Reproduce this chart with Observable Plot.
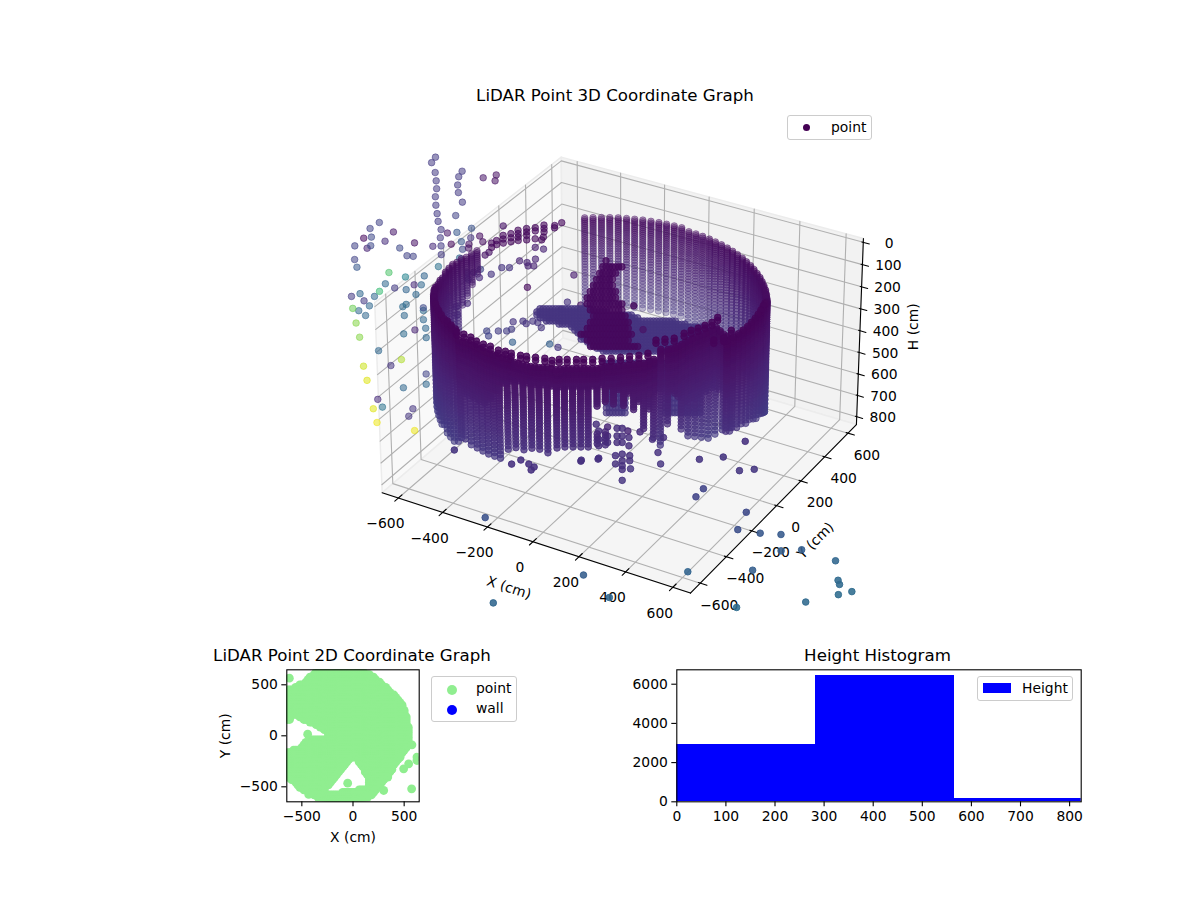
<!DOCTYPE html>
<html><head><meta charset="utf-8">
<script src="https://cdn.jsdelivr.net/npm/d3@7"></script>
<script src="https://cdn.jsdelivr.net/npm/@observablehq/plot@0.6"></script>
<style>
html,body{margin:0;padding:0;background:#fff}
#page{position:relative;width:1200px;height:900px;overflow:hidden;font-family:"DejaVu Sans",sans-serif;color:#000}
#page>div{position:absolute}
.t{font-size:16.67px;line-height:20px;transform:translateX(-50%);white-space:nowrap}
.lg{background:rgba(255,255,255,.8);border:1px solid #ccc;border-radius:3px;box-sizing:border-box}
.lt{position:absolute;font-size:13.89px;line-height:16px;white-space:nowrap}
.lm{position:absolute;border-radius:50%}
svg{display:block;overflow:visible}
</style></head><body><div id="page"></div>
<script>
// ---- 3D axes (cm)
const xTicks=[-600,-400,-200,0,200,400,600];
const yTicks=[-600,-400,-200,0,200,400,600];
const hTicks=[0,100,200,300,400,500,600,700,800];
const boxXY=[-674,674];
const boxH=[-17,837];
// ---- scan rows of the LiDAR (H, cm)
const scanRows=[30,38,46,54,62,70,78,86,94,102,110,118,127,136,145,154,163,172,182,192,202,212,222,233,244,255,266,278,290,302,315,328,341,355,369,383,398,413,428,444,460,476,493,510,527,545,563,581,600,620,640,660,680,700,730];
// ---- wall columns: across / deep are horizontal cm in the view-aligned frame
const wallU=[-151,-118,-85,-52,-19,14,46,78,110,141,171,201,230,258,285,311,337,360,383,405,425,443,461,476,491,503,514,524,531,537,542,544,545,544,542,537,531,524,514,503,491,476,461,443,425,405,383,
 -568,-588,-607,-625,-641,-656,-669,-681,-691,-699,-705,-710,-713,-715,
 -715,-713,-709,-703,-696,-688,-677,-665,-651,-636,-619,
 -589,-567,-544,-522,-500,-477,-455,-425,-396,-366,-336,-307,-277,-243,-214,-184,-155,-128,-95,-95,-65,-65,-35,2,39,76,113,139,165,191,217,243,269,295,321,347,373,399,
 -604,-578,-555,-533,-511,-488,-466,-440,-410,-381,-351,-321,-292,-260,-229,-199,-169,-141,-112,-80,-50,-17,20,57,95,178,204,230,256,282,308,334,360,386];
const wallV=[627,629,630,629,627,622,616,609,599,588,575,561,546,528,510,490,468,445,422,396,370,343,315,286,256,226,195,163,131,99,66,33,0,-33,-66,-99,-131,-163,-195,-226,-256,-286,-315,-343,-370,-396,-422,
 405,379,352,324,296,266,236,205,174,142,109,77,44,11,
 -22,-55,-88,-120,-152,-184,-215,-246,-276,-305,-334,
 -399,-413,-435,-457,-478,-493,-507,-522,-536,-551,-565,-572,-572,-587,-580,-580,-580,-580,-580,-580,-565,-565,-565,-558,-551,-543,-514,-442,-442,-435,-406,-377,-355,-334,-312,-283,-334,-370,
 -390,-405,-425,-445,-467,-485,-500,-515,-530,-544,-558,-568,-572,-580,-585,-580,-580,-580,-580,-572,-565,-561,-555,-547,-528,-438,-420,-391,-366,-344,-323,-297,-308,-352];
const wallTop=[102,102,102,102,102,102,102,102,102,102,102,102,102,105,105,105,105,108,108,108,108,108,108,109,109,109,109,109,109,109,109,109,109,100,80,65,52,43,41,41,41,41,41,45,45,45,45,
 125,122,120,118,112,104,106,110,112,108,103,98,85,72,
 72,68,64,60,56,52,50,47,45,42,40,
 60,60,60,60,60,60,60,60,70,70,70,70,70,70,70,70,70,70,70,343,70,343,70,70,70,70,70,70,70,70,70,70,70,70,70,70,70,70,
 60,60,60,60,60,60,60,60,60,70,70,70,70,70,70,70,70,70,70,70,70,70,70,70,70,70,70,70,70,70,70,70,70,70];
const wallBottom=[515,515,515,515,515,515,515,515,515,515,515,515,515,560,560,560,560,560,560,560,560,560,560,600,600,600,600,600,600,630,630,630,630,610,590,570,550,533,520,510,500,490,480,470,465,458,451,
 242,272,302,331,429,620,610,600,600,590,585,580,575,575,
 578,572,570,568,565,563,562,565,564,563,558,
 502,511,511,511,515,520,520,475,453,449,440,436,445,427,427,422,422,418,233,409,228,418,242,246,273,356,427,502,405,277,458,493,515,537,559,550,506,480,
 500,300,300,300,300,260,220,180,160,150,145,145,145,145,145,145,145,145,145,145,160,180,200,240,280,250,300,330,330,330,340,340,330,330];
// ---- the distinct top ring of the front wall
const ringRows=[30,44];
const ringU=[-611,-585,-559,-537,-511,-485,-455,-429,-407,-373,-351,-318,-284,-258,-232,-203,-169,-143,-110,-76,-43,-9,24,58,91,121,154,188,225,251,277,303,329,351,399,370,333];
const ringV=[-384,-399,-420,-449,-471,-486,-514,-522,-536,-551,-558,-565,-572,-587,-580,-580,-580,-580,-580,-572,-572,-565,-558,-551,-536,-442,-435,-428,-392,-370,-355,-334,-312,-276,-370,-428,-442];
// ---- floor blob and the tall object near the middle (rows of H with extent)
const blobAcross=[-340,-328,-316,-304,-292,-280,-268,-256,-244,-232,-220,-208,-196,-184,-172,-160,-148,-136,-124,-112,-100,-88,-76,-64,-52,-40,-28,-16,-4,8,20,32,44,56,68,80,92,104,116,128,140,152,164,176,188,200,212,224,236,248,260,272,284,296,308,320,332];
const blobH=[178,192,206,219,233,247,260,274,287,301,315,328,342,356,369,387,410,433,455,478,501,524,546,569,591,614,524,546,569,591,614];
const blobFrom=[-327,-330,-335,-320,-297,-250,-201,-190,-182,-170,-163,-140,-124,-100,-86,-80,-75,-75,-75,-75,-75,-75,-75,-75,-70,-67,155,160,163,163,163];
const blobTo=[-124,-60,40,67,200,240,330,330,330,300,280,280,280,258,258,258,270,280,290,297,297,17,17,17,12,10,297,297,297,297,297];
const spikeAcross=[-160,-148,-136,-124,-112,-100,-88,-76,-64,-52,-40,-28,-16,-4,8,20,32,44,56,68];
const spikeH=[-58,-31,-3,24,51,78,106,133,160,187,215,242,269,296,324];
const spikeFrom=[-75,-86,-98,-109,-117,-132,-140,-136,-124,-117,-124,-144,-163,-144,-124];
const spikeTo=[-55,-2,-17,-29,-33,-25,-17,-2,6,13,21,29,36,29,67];
// ---- far points behind the box (deep = 800)
const farU=[-742,-758,-745,-742,-741,-747,-746,-742,-739,-728,-732,-730,-730,-638,-652,-657,-655,-640,-555,-503,-508,-668,-974,-1012,-919,-1039,-1008,-954,-836,-1076,-1027,-1012,-896,-763,-703,-689,-665,-606,-610,-648,-618,-574,-562,-644,-620,-868,-843,-1079,-1071,-657,-743,-801,-943,-877,-984,-959,-922,-843,-814,-876,-837,-1005,-1063,-1098,-1048,-1027,-1095,-1071,-1044,-887,-878,-892,-809,-809,-810,-802,-846,-892,-1084,-1072,-801,-997,-905,-1061,-949,-1049,-806,-901,-1008,-990,-1028,-865,-1015,-883,-861,-807];
const farH=[-81,-56,-11,27,63,100,139,178,214,252,290,328,369,-17,8,46,81,125,13,0,27,187,219,247,263,292,287,306,314,328,339,327,338,330,268,320,265,246,290,308,320,282,309,344,338,374,377,392,428,385,425,469,453,474,542,506,526,511,511,534,557,566,553,566,587,611,623,634,657,657,604,615,620,633,677,718,726,745,693,761,763,826,869,901,898,970,939,1006,1063,1101,1109,1109,1177,1146,1217,989];
const farT=[.17,.17,.17,.17,.17,.17,.17,.17,.17,.17,.17,.17,.17,.17,.17,.17,.17,.17,.06,.04,.04,.2,.2,.2,.07,.02,.22,.13,.05,.2,.1,.22,.22,.12,.06,.02,.27,.25,.15,.27,.05,.03,.03,.22,.05,.2,.2,.2,.27,.32,.37,.32,.72,.45,.68,.33,.17,.12,.33,.32,.33,.33,.33,.17,.17,.33,.78,.33,.33,.33,.35,.35,.22,.35,.33,.33,.1,.35,.82,.82,.33,.33,.88,.92,.15,.95,.2,.33,.12,.38,.95,.15,.97,.15,.97,.33];
// ---- sparse arc at the back-left of the wall and stray points (deep = 800)
const arcU=[-245,-273,-274,-316,-316,-316,-351,-351,-386,-386,-386,-420,-420,-420,-449,-449,-449,-480,-480,-480,-479,-507,-507,-527,-527,-352,-326,-319,-352,-319,-386,-420,-416,-386,-352,-382,-359,-457,-488,-531,-579,-601,-574,-554,-538,-198,-386,-628,-624,-630,-675,-672,-554,-547,-507,-473,-453,-450,-446,-406,-393,-366,-346,-332,-299,-252,-225,-171,-299,-265];
const arcH=[220,233,244,231,247,263,243,258,247,263,279,255,271,287,271,290,309,279,296,315,235,303,322,315,335,295,300,287,335,343,300,303,398,406,390,422,422,430,430,461,477,453,438,371,358,465,523,453,485,599,614,655,731,755,731,731,723,785,687,684,696,684,691,715,656,628,593,607,794,810];
const arcT=[.02,.02,.02,.02,.02,.02,.02,.02,.02,.02,.02,.02,.02,.02,.02,.02,.02,.02,.02,.02,.06,.02,.02,.02,.02,.02,.02,.02,.08,.1,.02,.02,.1,.1,.1,.1,.1,.15,.15,.15,.12,.2,.2,.05,.05,.08,.02,.2,.2,.12,.12,.15,.2,.2,.18,.18,.18,.3,.15,.15,.15,.15,.15,.15,.14,.14,.14,.05,.3,.15];
// ---- stray points in front of the wall (deep = -500)
const frontU=[-155,-90,-99,-57,-90,-90,-90,-57,-57,-22,-22,-22,-3,-3,-3,18,22,22,-28,-3,25,25,-28,-3,-3,-3,28,-3,140,130,63,109,150,39,73];
const frontH=[523,514,363,375,393,430,459,415,444,381,415,444,381,415,444,393,422,459,503,496,503,526,540,526,548,565,562,614,540,489,397,430,422,-152,-50];
const frontT=[.14,.14,.13,.1,.13,.13,.13,.13,.13,.13,.13,.13,.13,.13,.13,.1,.13,.13,.14,.14,.14,.14,.14,.14,.14,.14,.15,.15,.15,.14,.12,.13,.13,.03,.06];
// ---- points low in front of the box (deep = -700)
const nearU=[279,366,426,480,445,295,268,454,424,507,584,586,662,789,482,241,801,807,804,854,683,425,-51,-508,-147,-485,-615,-407,-373,-344,-336,-325,-154,-91];
const nearH=[390,380,440,434,311,520,556,625,703,719,725,799,794,844,887,894,933,952,999,985,1033,1058,1012,649,909,1037,349,411,393,411,437,424,398,389];
const nearT=[.15,.15,.16,.16,.14,.2,.2,.22,.24,.27,.28,.3,.3,.33,.3,.32,.34,.34,.35,.35,.34,.35,.33,.25,.3,.33,.15,.14,.14,.14,.14,.14,.14,.14];
// ---- 2D plan (cm): rows with extents, and lone points
const planCols=[-640,-620,-600,-580,-560,-540,-520,-500,-480,-460,-440,-420,-400,-380,-360,-340,-320,-300,-280,-260,-240,-220,-200,-180,-160,-140,-120,-100,-80,-60,-40,-20,0,20,40,60,80,100,120,140,160,180,200,220,240,260,280,300,320,340,360,380,400,420,440,460,480,500,520,540,560,580,600,620,640];
const planY=[650,625,600,575,550,525,500,475,450,425,400,375,350,325,300,275,250,225,210,185,185,160,160,135,110,85,60,35,10,-15,-40,-65,-90,-115,-140,-165,-190,-210,-230,-230,-255,-255,-280,-280,-305,-305,-330,-330,-355,-355,-380,-380,-405,-405,-430,-430,-455,-455,-480,-480,-505,-505,-530,-530,-555,-555,-580,-605,-630,-647];
const planFrom=[-330,-370,-395,-420,-445,-465,-520,-560,-640,-640,-640,-640,-640,-640,-640,-640,-640,-640,-640,-640,-520,-640,-490,-430,-368,-325,-285,-245,-245,-245,-415,-470,-490,-510,-580,-640,-640,-640,-640,50,-640,55,-640,70,-640,85,-640,105,-640,120,-640,135,-640,145,-600,150,-575,155,-555,155,-530,150,-490,50,-430,-119,-390,-340,-280,-230];
const planTo=[30,110,160,205,235,265,295,320,350,378,403,420,445,460,480,492,505,512,516,-610,520,-620,525,530,535,540,543,545,545,545,543,540,537,530,510,490,475,460,-40,445,-45,425,-65,410,-90,395,-110,380,-130,365,-150,350,-170,340,-185,310,-205,290,-230,265,-265,245,-265,225,-265,210,190,140,80,30];
const loneX=[-622,-443,-52,573,300,576,625,625,495,544,-433];
const loneY=[565,16,-464,-520,-536,-88,-209,-242,-324,-275,-575];
// ---- histogram
const binStart=[0,282.4,564.8];
const binEnd=[282.4,564.8,847];
const binCount=[2923,6444,168];

const font='"DejaVu Sans",sans-serif';
const fs=13.89;
const page=document.getElementById("page");

// view-aligned frame + matplotlib-style perspective (elev 30, azim -60, dist 10)
function project(U,V,H){
  const u=U/1348,v=V/1348,z=.6*(410-H)/854;
  const d=-.866*v+.5*z,f=10/(10-d);
  return {a:u*f,b:(.5*v+.866*z)*f,d};
}
const world=(X,Y,H)=>project(.866*X+.5*Y,-.5*X+.866*Y,H);
const [lo,hi]=boxXY,[hTop,hBot]=boxH;
const path=(pts)=>pts.map(p=>world(...p));

const walls=[
 {p:path([[lo,lo,hTop],[lo,hi,hTop],[lo,hi,hBot],[lo,lo,hBot]]),fill:"#f9f9f9"},
 {p:path([[lo,hi,hTop],[hi,hi,hTop],[hi,hi,hBot],[lo,hi,hBot]]),fill:"#f2f2f2"},
 {p:path([[lo,lo,hBot],[hi,lo,hBot],[hi,hi,hBot],[lo,hi,hBot]]),fill:"#f5f5f5"}
];
const grid=[];
for(const t of xTicks){grid.push(path([[t,lo,hBot],[t,hi,hBot],[t,hi,hTop]]));}
for(const t of yTicks){grid.push(path([[hi,t,hBot],[lo,t,hBot],[lo,t,hTop]]));}
for(const t of hTicks){grid.push(path([[lo,lo,t],[lo,hi,t],[hi,hi,t]]));}
const axes=[path([[lo,lo,hBot],[hi,lo,hBot]]),path([[hi,lo,hBot],[hi,hi,hBot]]),path([[hi,hi,hBot],[hi,hi,hTop]])];
const tickSegs=[
 ...xTicks.map(t=>path([[t,lo-25,hBot],[t,lo+25,hBot]])),
 ...yTicks.map(t=>path([[hi-8,t,hBot],[hi+28,t,hBot]])),
 ...hTicks.map(t=>path([[hi-6,hi,t],[hi+26,hi,t]]))
];
const fmt=d3.format("d");

// build points; depth shading is read per group where the true depth is unknown
const pts=[];
const shade=d=>Math.max(.3,Math.min(.9,.3+(d+.45)*.6));
const add=(U,V,H,t,al)=>{const p=project(U,V,H);pts.push({a:p.a,b:p.b,d:p.d,t,al:al??shade(p.d)});};
wallU.forEach((U,i)=>{for(const H of scanRows){if(H>=wallTop[i]&&H<=wallBottom[i])add(U,wallV[i],H,H/3200);}});
ringU.forEach((U,i)=>{for(const H of ringRows)add(U,ringV[i],H,.015,.85);});
blobH.forEach((H,i)=>{for(const U of blobAcross){if(U>=blobFrom[i]&&U<=blobTo[i])add(U,i<15?40:-20,H,.15,.7);}});
spikeH.forEach((H,i)=>{for(const U of spikeAcross){if(U>=spikeFrom[i]&&U<=spikeTo[i])add(U,0,H,.02,.75);}});
farU.forEach((U,i)=>add(U,800,farH[i],farT[i],.55));
arcU.forEach((U,i)=>add(U,800,arcH[i],arcT[i],.62));
frontU.forEach((U,i)=>add(U,-500,frontH[i],frontT[i],.82));
nearU.forEach((U,i)=>add(U,-700,nearH[i],nearT[i],.88));
pts.sort((p,q)=>p.d-q.d);

const W=1200,H3=640;
const main=Plot.plot({
  width:W,height:H3,margin:0,
  style:{fontFamily:font,background:"transparent",overflow:"visible"},
  x:{domain:[-622.5/352.3,(W-622.5)/352.3],range:[0,W],axis:null},
  y:{domain:[(365-H3)/361.8,365/361.8],range:[H3,0],axis:null},
  color:{type:"linear",scheme:"viridis",domain:[0,1]},
  marks:[
    ...walls.map(w=>Plot.line(w.p,{x:"a",y:"b",fill:w.fill,stroke:"#ececec",strokeWidth:1.5,curve:"linear-closed"})),
    ...grid.map(g=>Plot.line(g,{x:"a",y:"b",stroke:"#b0b0b0",strokeWidth:1.1})),
    ...axes.map(g=>Plot.line(g,{x:"a",y:"b",stroke:"#000",strokeWidth:1.1})),
    ...tickSegs.map(g=>Plot.line(g,{x:"a",y:"b",stroke:"#000",strokeWidth:1.1})),
    Plot.text(xTicks,{x:t=>world(t,lo,hBot).a,y:t=>world(t,lo,hBot).b,text:fmt,dx:-13,dy:26,fontSize:fs,fill:"#000"}),
    Plot.text(yTicks,{x:t=>world(hi,t,hBot).a,y:t=>world(hi,t,hBot).b,text:fmt,dx:19,dy:22,fontSize:fs,fill:"#000"}),
    Plot.text(hTicks,{x:t=>world(hi,hi,t).a,y:t=>world(hi,hi,t).b,text:fmt,dx:26,dy:1,fontSize:fs,fill:"#000"}),
    Plot.text(["X (cm)"],{x:()=>world(0,lo,hBot).a,y:()=>world(0,lo,hBot).b,text:d=>d,dx:-24,dy:46,rotate:18,fontSize:fs,fill:"#000"}),
    Plot.text(["Y (cm)"],{x:()=>world(hi,0,hBot).a,y:()=>world(hi,0,hBot).b,text:d=>d,dx:39,dy:35,rotate:-45,fontSize:fs,fill:"#000"}),
    Plot.text(["H (cm)"],{x:()=>world(hi,hi,400).a,y:()=>world(hi,hi,400).b,text:d=>d,dx:54,dy:-4,rotate:-90,fontSize:fs,fill:"#000"}),
    Plot.dot(pts,{x:"a",y:"b",r:3.3,fill:"t",stroke:"t",strokeWidth:1,fillOpacity:"al",strokeOpacity:"al"})
  ]
});
const wrap=(el,l,t)=>{const d=document.createElement("div");d.style.left=l+"px";d.style.top=t+"px";d.appendChild(el);page.appendChild(d);return d;};
wrap(main,0,0);

// 2D plan
const plan=[];
planY.forEach((Y,i)=>{for(const X of planCols){if(X>=planFrom[i]&&X<=planTo[i])plan.push({X,Y});}});
loneX.forEach((X,i)=>plan.push({X,Y:loneY[i]}));
const plot2=Plot.plot({
  width:330,height:210,marginLeft:86.3,marginRight:111.3,marginTop:29.3,marginBottom:48.7,
  style:{fontFamily:font,fontSize:fs+"px",background:"transparent",overflow:"visible",color:"#000"},
  x:{domain:[-647,647]},y:{domain:[-647,647]},
  marks:[
    Plot.dot(plan,{x:"X",y:"Y",r:4.4,fill:"#90ee90",clip:true}),
    Plot.frame({stroke:"#000",strokeWidth:1.1}),
    Plot.axisX({ticks:[-500,0,500],tickFormat:fmt,tickSize:5,tickPadding:4,strokeWidth:1.1,label:"X (cm)",labelAnchor:"center",labelArrow:"none",labelOffset:40,fontSize:fs}),
    Plot.axisY({ticks:[-500,0,500],tickFormat:fmt,tickSize:5,tickPadding:4,strokeWidth:1.1,label:"Y (cm)",labelAnchor:"center",labelArrow:"none",labelOffset:67,fontSize:fs})
  ]
});
wrap(plot2,200,640);

// histogram
const bins=binCount.map((c,i)=>({x1:binStart[i],x2:binEnd[i],c}));
const plot3=Plot.plot({
  width:460,height:190,marginLeft:46.3,marginRight:9.3,marginTop:29.3,marginBottom:28.7,
  style:{fontFamily:font,fontSize:fs+"px",background:"transparent",overflow:"visible",color:"#000"},
  x:{domain:[0,823.6]},y:{domain:[0,6735]},
  marks:[
    Plot.rectY(bins,{x1:"x1",x2:"x2",y1:0,y2:"c",fill:"#0000ff",clip:true,inset:0,shapeRendering:"crispEdges"}),
    Plot.frame({stroke:"#000",strokeWidth:1.1}),
    Plot.axisX({ticks:[0,100,200,300,400,500,600,700,800],tickFormat:fmt,tickSize:5,tickPadding:4,strokeWidth:1.1,label:null,fontSize:fs}),
    Plot.axisY({ticks:[0,2000,4000,6000],tickFormat:fmt,tickSize:5,tickPadding:4,strokeWidth:1.1,label:null,fontSize:fs})
  ]
});
wrap(plot3,630,640);

// titles and legends
const html=(s)=>{const d=document.createElement("div");d.innerHTML=s;page.appendChild(d.firstElementChild);};
html('<div class="t" style="left:615px;top:86px">LiDAR Point 3D Coordinate Graph</div>');
html('<div class="t" style="left:352px;top:646px">LiDAR Point 2D Coordinate Graph</div>');
html('<div class="t" style="left:877.5px;top:646px">Height Histogram</div>');
html('<div class="lg" style="left:787px;top:115px;width:85px;height:25px"><span class="lm" style="left:15px;top:8px;width:7px;height:7px;background:#440154"></span><span class="lt" style="left:43px;top:3px">point</span></div>');
html('<div class="lg" style="left:431px;top:676px;width:86px;height:46px"><span class="lm" style="left:15px;top:8px;width:10px;height:10px;background:#90ee90"></span><span class="lm" style="left:15px;top:28px;width:10px;height:10px;background:#0000ff"></span><span class="lt" style="left:44px;top:3px">point</span><span class="lt" style="left:44px;top:23px">wall</span></div>');
html('<div class="lg" style="left:977px;top:676px;width:96px;height:25px"><span style="position:absolute;left:5px;top:6px;width:28px;height:10px;background:#0000ff"></span><span class="lt" style="left:44px;top:3px">Height</span></div>');
</script></body></html>
